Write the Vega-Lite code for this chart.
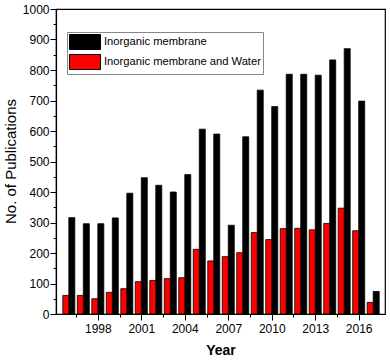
{
  "$schema": "https://vega.github.io/schema/vega-lite/v6.json",
  "width": 329,
  "height": 305,
  "autosize": {"type": "none"},
  "padding": {"left": 56, "top": 9, "right": 5, "bottom": 50},
  "background": "white",
  "config": {
    "font": "Liberation Sans",
    "view": {"stroke": "black", "strokeWidth": 1.2},
    "axis": {
      "grid": false,
      "domainColor": "black",
      "tickColor": "black",
      "labelColor": "black",
      "titleColor": "black",
      "labelFont": "Liberation Sans",
      "titleFont": "Liberation Sans",
      "labelFontSize": 12,
      "domainWidth": 1.2,
      "tickWidth": 1
    }
  },
  "data": {
    "values": [
      {"year": 1996, "series": "Inorganic membrane", "count": 316},
      {"year": 1997, "series": "Inorganic membrane", "count": 296},
      {"year": 1998, "series": "Inorganic membrane", "count": 296},
      {"year": 1999, "series": "Inorganic membrane", "count": 315},
      {"year": 2000, "series": "Inorganic membrane", "count": 396},
      {"year": 2001, "series": "Inorganic membrane", "count": 447},
      {"year": 2002, "series": "Inorganic membrane", "count": 422},
      {"year": 2003, "series": "Inorganic membrane", "count": 400},
      {"year": 2004, "series": "Inorganic membrane", "count": 457},
      {"year": 2005, "series": "Inorganic membrane", "count": 606},
      {"year": 2006, "series": "Inorganic membrane", "count": 590},
      {"year": 2007, "series": "Inorganic membrane", "count": 291},
      {"year": 2008, "series": "Inorganic membrane", "count": 581},
      {"year": 2009, "series": "Inorganic membrane", "count": 734},
      {"year": 2010, "series": "Inorganic membrane", "count": 680},
      {"year": 2011, "series": "Inorganic membrane", "count": 786},
      {"year": 2012, "series": "Inorganic membrane", "count": 786},
      {"year": 2013, "series": "Inorganic membrane", "count": 783},
      {"year": 2014, "series": "Inorganic membrane", "count": 833},
      {"year": 2015, "series": "Inorganic membrane", "count": 870},
      {"year": 2016, "series": "Inorganic membrane", "count": 698},
      {"year": 2017, "series": "Inorganic membrane", "count": 74},
      {"year": 1996, "series": "Inorganic membrane and Water", "count": 61},
      {"year": 1997, "series": "Inorganic membrane and Water", "count": 61},
      {"year": 1998, "series": "Inorganic membrane and Water", "count": 50},
      {"year": 1999, "series": "Inorganic membrane and Water", "count": 71},
      {"year": 2000, "series": "Inorganic membrane and Water", "count": 83},
      {"year": 2001, "series": "Inorganic membrane and Water", "count": 106},
      {"year": 2002, "series": "Inorganic membrane and Water", "count": 110},
      {"year": 2003, "series": "Inorganic membrane and Water", "count": 116},
      {"year": 2004, "series": "Inorganic membrane and Water", "count": 119},
      {"year": 2005, "series": "Inorganic membrane and Water", "count": 212},
      {"year": 2006, "series": "Inorganic membrane and Water", "count": 174},
      {"year": 2007, "series": "Inorganic membrane and Water", "count": 188},
      {"year": 2008, "series": "Inorganic membrane and Water", "count": 201},
      {"year": 2009, "series": "Inorganic membrane and Water", "count": 267},
      {"year": 2010, "series": "Inorganic membrane and Water", "count": 244},
      {"year": 2011, "series": "Inorganic membrane and Water", "count": 280},
      {"year": 2012, "series": "Inorganic membrane and Water", "count": 281},
      {"year": 2013, "series": "Inorganic membrane and Water", "count": 276},
      {"year": 2014, "series": "Inorganic membrane and Water", "count": 297},
      {"year": 2015, "series": "Inorganic membrane and Water", "count": 347},
      {"year": 2016, "series": "Inorganic membrane and Water", "count": 273},
      {"year": 2017, "series": "Inorganic membrane and Water", "count": 38}
    ]
  },
  "resolve": {"axis": {"x": "independent", "y": "independent"}},
  "layer": [
    {
      "transform": [{"filter": "datum.series === 'Inorganic membrane'"}],
      "mark": {"type": "bar", "width": 6, "xOffset": 3, "stroke": "black", "strokeWidth": 0.8},
      "encoding": {
        "x": {
          "field": "year", "type": "quantitative",
          "scale": {"domain": [1995.46, 2017.47], "nice": false, "zero": false},
          "axis": {
            "orient": "bottom",
            "values": [1998, 2001, 2004, 2007, 2010, 2013, 2016],
            "format": "d",
            "tickSize": 6,
            "labelPadding": 3,
            "title": "Year",
            "titleFontSize": 14,
            "titleFontWeight": "bold",
            "titlePadding": 9
          }
        },
        "y": {
          "field": "count", "type": "quantitative",
          "scale": {"domain": [0, 1000], "nice": false},
          "axis": {
            "orient": "left",
            "values": [0, 100, 200, 300, 400, 500, 600, 700, 800, 900, 1000],
            "format": "d",
            "tickSize": 6,
            "labelPadding": 1,
            "title": "No. of Publications",
            "titleFontSize": 15,
            "titleFontWeight": "normal",
            "titleAngle": 270,
            "titleX": -46,
            "titleY": 152,
            "titleAlign": "center",
            "titleBaseline": "middle"
          }
        },
        "color": {
          "field": "series", "type": "nominal",
          "scale": {"domain": ["Inorganic membrane", "Inorganic membrane and Water"], "range": ["black", "red"]},
          "legend": {
            "orient": "none",
            "legendX": 11,
            "legendY": 23,
            "title": null,
            "padding": 2,
            "strokeColor": "#888888",
            "fillColor": "white",
            "symbolType": "M-2.07,-1H2.07V1H-2.07Z",
            "symbolSize": 225,
            "symbolOffset": 8,
            "symbolStrokeColor": "black",
            "symbolStrokeWidth": 1,
            "symbolOpacity": 1,
            "labelFontSize": 11.2,
            "labelFont": "Liberation Sans",
            "labelColor": "black",
            "labelLimit": 300,
            "labelOffset": 11,
            "rowPadding": 0
          }
        }
      }
    },
    {
      "transform": [{"filter": "datum.series === 'Inorganic membrane and Water'"}],
      "mark": {"type": "bar", "width": 6, "xOffset": -3, "stroke": "black", "strokeWidth": 0.8},
      "encoding": {
        "x": {
          "field": "year", "type": "quantitative",
          "axis": {
            "orient": "bottom",
            "values": [1996.5, 1999.5, 2002.5, 2005.5, 2008.5, 2011.5, 2014.5],
            "labels": false,
            "domain": false,
            "tickSize": 3,
            "title": null
          }
        },
        "y": {
          "field": "count", "type": "quantitative",
          "axis": {
            "orient": "left",
            "values": [50, 150, 250, 350, 450, 550, 650, 750, 850, 950],
            "labels": false,
            "domain": false,
            "tickSize": 3,
            "title": null
          }
        },
        "color": {"field": "series", "type": "nominal"}
      }
    }
  ]
}
